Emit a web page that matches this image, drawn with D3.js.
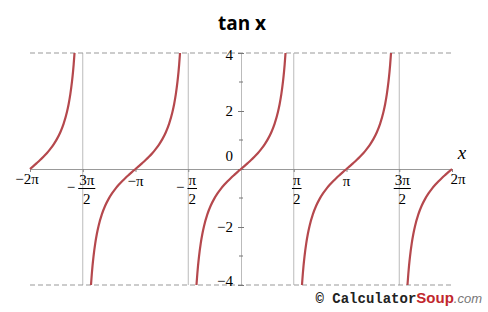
<!DOCTYPE html>
<html>
<head>
<meta charset="utf-8">
<script src="https://cdn.jsdelivr.net/npm/d3@7"></script>
<style>
  body { margin: 0; background: #fff; }
  svg { display: block; }
  .serif { font-family: "Liberation Serif", "DejaVu Serif", serif; }
</style>
</head>
<body>
<div id="chart"></div>
<script>
// one branch of tan x, offsets from the branch centre (radians) and values
var branchOffsets = [-1.3258, -1.30, -1.28, -1.25, -1.20, -1.15, -1.10, -1.00, -0.90, -0.80, -0.70, -0.60, -0.50, -0.40, -0.30, -0.20, -0.10,
                     0, 0.10, 0.20, 0.30, 0.40, 0.50, 0.60, 0.70, 0.80, 0.90, 1.00, 1.10, 1.15, 1.20, 1.25, 1.28, 1.30, 1.3258];
var branchValues  = [-4.000, -3.602, -3.341, -3.010, -2.572, -2.234, -1.965, -1.557, -1.260, -1.030, -0.842, -0.684, -0.546, -0.423, -0.309, -0.203, -0.100,
                     0, 0.100, 0.203, 0.309, 0.423, 0.546, 0.684, 0.842, 1.030, 1.260, 1.557, 1.965, 2.234, 2.572, 3.010, 3.341, 3.602, 4.000];
var branchCenters = [-2, -1, 0, 1, 2];           // in units of pi
var asymptotes    = [-1.5, -0.5, 0.5, 1.5];      // in units of pi
var xTicks  = [-2, -1.5, -1, -0.5, 0.5, 1, 1.5, 2];
var xLabels = ["\u22122\u03c0", "3\u03c0/2", "\u2212\u03c0", "\u03c0/2", "\u03c0/2", "\u03c0", "3\u03c0/2", "2\u03c0"];
var xNeg    = [true, true, true, true, false, false, false, false];
var yTicks  = [-4, -2, 0, 2, 4];
var yMinor  = [-3, -1, 1, 3];

var width = 488, height = 312;
var PI = Math.PI;

var svg = d3.select("#chart").append("svg")
            .attr("width", width)
            .attr("height", height);

var x = d3.scaleLinear().domain([-2 * PI, 2 * PI]).range([30, 452]),
    y = d3.scaleLinear().domain([-4, 4]).range([285, 53]);

svg.append("text")
   .attr("x", 242)
   .attr("y", 30)
   .attr("text-anchor", "middle")
   .attr("font-family", "Open Sans")
   .attr("font-weight", "bold")
   .attr("font-size", "19px")
   .attr("fill", "#000")
   .text("tan x");

// asymptote grid lines
svg.selectAll(".asym")
   .data(asymptotes)
   .enter()
   .append("line")
   .attr("class", "asym")
   .attr("x1", function(d) { return x(d * PI); })
   .attr("x2", function(d) { return x(d * PI); })
   .attr("y1", y(4))
   .attr("y2", y(-4))
   .attr("stroke", "#bbb")
   .attr("stroke-width", 1);

// dashed limits at +-4
svg.selectAll(".limit")
   .data([4, -4])
   .enter()
   .append("line")
   .attr("class", "limit")
   .attr("x1", x(-2 * PI))
   .attr("x2", x(2 * PI))
   .attr("y1", function(d) { return y(d); })
   .attr("y2", function(d) { return y(d); })
   .attr("stroke", "#999")
   .attr("stroke-width", 1)
   .attr("stroke-dasharray", "5,3");

// x axis
var xAxis = svg.append("g")
   .attr("transform", "translate(0," + y(0) + ")")
   .call(d3.axisBottom(x).tickValues(xTicks.map(function(d) { return d * PI; }))
          .tickSizeInner(3).tickSizeOuter(0).tickFormat(""));
xAxis.select(".domain").attr("stroke", "#999");
xAxis.selectAll(".tick line").attr("stroke", "#888");

xTicks.forEach(function(t, i) {
    var cx = x(t * PI);
    var lab = xLabels[i];
    var g = svg.append("g")
               .attr("class", "serif")
               .attr("font-size", "15px")
               .attr("fill", "#000");
    if (lab.indexOf("/") < 0) {
        var dx = t === 2 ? 6 : (t === -2 ? -3 : 0);
        var base = Math.abs(t) === 2 ? 184 : 186;
        g.append("text")
         .attr("x", cx + dx)
         .attr("y", base)
         .attr("text-anchor", "middle")
         .text(lab);
    } else {
        var parts = lab.split("/");
        var fx = cx + (xNeg[i] ? 4 : 3);
        var num = g.append("text")
                   .attr("x", fx)
                   .attr("y", 185)
                   .attr("text-anchor", "middle")
                   .text(parts[0]);
        var w = num.node().getComputedTextLength();
        g.append("line")
         .attr("x1", fx - w / 2 - 1)
         .attr("x2", fx + w / 2 + 1)
         .attr("y1", 188.5)
         .attr("y2", 188.5)
         .attr("stroke", "#000")
         .attr("stroke-width", 1);
        g.append("text")
         .attr("x", fx)
         .attr("y", 204)
         .attr("text-anchor", "middle")
         .text(parts[1]);
        if (xNeg[i]) {
            g.append("text")
             .attr("x", fx - w / 2 - 4)
             .attr("y", 192)
             .attr("text-anchor", "end")
             .text("\u2212");
        }
    }
});

svg.append("text")
   .attr("class", "serif")
   .attr("x", 462)
   .attr("y", 159)
   .attr("text-anchor", "middle")
   .attr("font-style", "italic")
   .attr("font-size", "19px")
   .text("x");

// y axis
var yAxis = svg.append("g")
   .attr("transform", "translate(" + x(0) + ",0)")
   .call(d3.axisLeft(y).tickValues(yTicks).tickSizeInner(3).tickSizeOuter(0).tickPadding(5)
          .tickFormat(function(d) { return d < 0 ? "\u2212" + Math.abs(d) : d; }));
yAxis.attr("font-family", null);
yAxis.select(".domain").attr("stroke", "#777").attr("stroke-dasharray", "1,1");
yAxis.selectAll(".tick line").attr("stroke", "#777").attr("x2", 3).attr("x1", -3);
yAxis.selectAll(".tick text")
     .attr("class", "serif")
     .attr("font-size", "15px")
     .attr("fill", "#000")
     .attr("dy", function(d) { return d === 0 ? "-0.6em" : (d === -4 ? "0.05em" : (d === 4 ? "0.45em" : "0.32em")); });
svg.selectAll(".minor")
   .data(yMinor)
   .enter()
   .append("line")
   .attr("class", "minor")
   .attr("x1", x(0) - 2)
   .attr("x2", x(0) + 2)
   .attr("y1", function(d) { return y(d); })
   .attr("y2", function(d) { return y(d); })
   .attr("stroke", "#777");

// curve branches
var line = d3.line()
             .x(function(d) { return x(d[0]); })
             .y(function(d) { return y(d[1]); })
             .curve(d3.curveMonotoneX);

branchCenters.forEach(function(c) {
    var pts = branchOffsets.map(function(o, i) { return [c * PI + o, branchValues[i]]; })
                           .filter(function(p) { return p[0] >= -2 * PI - 1e-9 && p[0] <= 2 * PI + 1e-9; });
    svg.append("path")
       .datum(pts)
       .attr("fill", "none")
       .attr("stroke", "#b5484d")
       .attr("stroke-width", 2.2)
       .attr("d", line);
});

// credit
var credit = svg.append("text")
   .attr("x", 482)
   .attr("y", 303)
   .attr("text-anchor", "end")
   .attr("font-size", "14px");
credit.append("tspan")
      .attr("font-family", "Liberation Mono")
      .attr("font-weight", "bold")
      .attr("fill", "#222")
      .text("\u00a9 Calculator");
credit.append("tspan")
      .attr("font-family", "Liberation Sans")
      .attr("font-weight", "bold")
      .attr("font-size", "15px")
      .attr("fill", "#c1272d")
      .text("Soup");
credit.append("tspan")
      .attr("font-family", "Liberation Sans")
      .attr("font-style", "italic")
      .attr("font-size", "13px")
      .attr("fill", "#777")
      .text(".com");
</script>
</body>
</html>
